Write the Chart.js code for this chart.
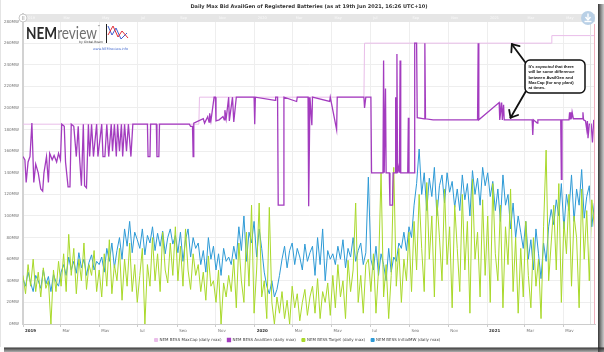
<!DOCTYPE html>
<html><head><meta charset="utf-8">
<script src="https://cdn.jsdelivr.net/npm/chart.js@4.4.1/dist/chart.umd.min.js"></script>
<style>
html,body{margin:0;padding:0;background:#fff;}
canvas{display:block;}
</style></head><body>
<canvas id="c" width="604" height="352"></canvas>
<script>
// ---------- DATA ----------
const seriesNames = ['NEM BESS MaxCap (daily max)','NEM BESS AvailGen (daily max)','NEM BESS Target (daily max)','NEM BESS InitialMW (daily max)'];
const tickDays = [0,59,120,181,243,304,365,425,486,547,609,670,731,790,851]; // days since 1 Jan 2019
const tickLabels = ['2019','Mar','May','Jul','Sep','Nov','2020','Mar','May','Jul','Sep','Nov','2021','Mar','May'];
const yTickValues = [0,20,40,60,80,100,120,140,160,180,200,220,240,260,280];

const maxCapDays = [0,277,278,537,538,832,833,900];
const maxCapMW   = [185,185,210,210,260,260,267,267];

const availDays = [
 0,3,5,8,11,14,17,20,24,28,
 31,33,37,40,42,46,49,53,56,59,
 61,65,67,71,74,76,80,84,87,89,
 92,95,97,100,103,105,108,111,116,118,
 124,126,129,132,135,139,141,144,147,149,
 152,155,157,160,163,166,170,173,196,197,
 200,201,210,211,214,215,262,264,267,268,
 269,284,286,291,293,294,296,301,303,304,
 309,315,317,318,320,324,325,330,332,336,
 364,365,366,397,398,401,402,410,411,431,
 432,449,450,452,455,456,483,484,494,495,
 537,538,540,548,549,567,568,569,571,572,
 577,578,582,583,586,587,588,589,590,592,
 593,594,595,606,607,608,616,617,620,621,
 632,633,634,646,716,717,718,750,751,754,
 755,757,758,802,803,804,810,811,847,848,
 849,860,861,862,863,864,865,867,881,882,
 883,886,888,889,890,892,895,897,899];
const availMW = [
 155,152,131,150,155,186,131,148,140,125,
 123,140,155,131,158,152,156,150,158,152,
 185,183,150,127,127,185,183,155,183,155,
 128,185,128,126,185,155,185,155,185,155,
 185,155,155,185,155,185,160,185,155,185,
 160,185,155,185,160,185,155,185,185,155,
 155,185,185,155,155,185,185,183,183,155,
 186,190,186,192,187,195,188,210,210,188,
 189,192,189,198,190,210,188,210,187,210,
 210,185,210,207,210,210,110,110,210,206,
 210,210,109,210,184,210,206,210,180,210,
 210,200,210,210,140,140,244,140,218,140,
 140,110,110,140,140,210,140,250,140,146,
 140,244,140,140,191,140,140,260,260,191,
 190,260,190,189,189,260,189,205,189,205,
 189,203,189,189,175,189,186,189,189,134,
 189,189,196,190,196,190,196,190,190,196,
 189,188,180,188,172,185,185,168,189];

// Target and InitialMW read every 4th day from 1 Jan 2019
const sampleStepDays = 4;
const targetMW = [
 45,28,55,35,60,30,48,25,52,33,40,0,50,30,58,
 35,65,30,83,45,70,28,60,40,75,32,55,45,68,30,
 50,25,65,35,78,28,55,40,70,22,60,35,75,30,55,20,
 45,70,0,55,35,80,40,65,30,85,50,38,75,45,90,
 40,72,35,88,50,32,65,45,
 55,30,48,22,63,35,40,20,50,0,38,25,45,
 30,60,15,75,40,20,85,35,110,10,50,112,25,
 40,5,108,20,0,25,10,
 30,5,22,0,35,15,28,3,20,32,8,25,
 35,10,42,5,30,20,38,8,
 45,15,55,25,40,5,59,30,50,112,20,45,10,55,
 60,
 30,65,10,50,140,25,55,5,45,
 145,35,70,20,60,40,85,30,
 95,50,120,70,30,131,60,100,25,115,80,40,125,55,90,15,110,
 70,30,120,50,95,10,134,60,85,25,115,45,
 100,20,130,65,40,110,15,90,55,125,30,80,10,
 70,25,95,45,15,80,35,60,5,90,161,40,75,
 110,50,130,20,95,65,120,35,100,80,15,125,60,105,40,115,90];
const initialMW = [
 42,35,48,38,30,45,40,33,50,37,44,30,46,39,35,
 48,55,45,62,50,58,47,66,52,60,45,57,64,50,58,
 55,62,48,70,58,75,52,68,80,60,88,72,95,66,85,78,
 70,88,64,82,75,90,68,84,72,86,65,80,88,74,82,
 66,85,58,78,88,62,80,70,
 75,55,68,48,80,60,72,50,65,45,70,58,62,
 55,72,60,90,68,100,58,85,75,95,62,88,70,
 48,35,28,40,25,32,45,
 60,72,52,68,75,55,70,62,50,74,58,66,
 72,45,80,55,88,40,68,60,
 65,55,72,60,78,52,70,62,80,58,68,75,55,66,
 136,
 60,50,72,45,65,55,40,70,48,
 62,58,75,70,85,68,90,80,
 110,130,162,120,140,105,135,118,145,100,128,138,112,140,122,132,108,
 125,105,138,115,130,100,142,120,135,110,145,128,
 140,118,132,105,125,95,138,110,120,88,112,80,100,
 85,70,95,60,78,50,88,65,42,75,58,90,106,
 92,115,100,130,88,120,105,138,95,125,110,143,98,118,128,90,112];

const seriesColors = ['#e9bde9','#a33cbf','#a9d92a','#2d9ad6'];
// annotation arrows point at (day, MW)
const arrowTargets = [[770,259],[768,191]];
const noteLines = [["It's ","expected"," that there"],["will be some difference"],["between AvailGen and"],["MaxCap (for any plant)"],["at times."]];
const titleText = 'Daily Max Bid AvailGen of Registered Batteries (as at 19th Jun 2021, 16:26 UTC+10)';

// ---------- BUILD ----------
const pts = (xs, ys) => ys.map((v,i)=>({x:xs[i], y:v}));
const sampled = ys => ys.map((v,i)=>({x:i*sampleStepDays, y:v}));
const PB = 0;
const PLOT_BOTTOM = 325;
const FONT = 'DejaVu Sans';

const deco = {
  id:'deco',
  beforeDraw(chart){
    const ctx = chart.ctx;
    ctx.save();
    ctx.fillStyle='#fff'; ctx.fillRect(0,0,604,352);
    let g = ctx.createLinearGradient(598,0,604,0);
    g.addColorStop(0,'rgba(40,40,40,0.95)'); g.addColorStop(1,'rgba(120,120,120,0.4)');
    ctx.fillStyle=g; ctx.fillRect(598,4,6,348);
    g = ctx.createLinearGradient(0,347,0,352);
    g.addColorStop(0,'rgba(20,20,20,0.95)'); g.addColorStop(1,'rgba(90,90,90,0.5)');
    ctx.fillStyle=g; ctx.fillRect(4,347.5,600,4.5);
    ctx.fillStyle='#e4e4e4'; ctx.fillRect(0,0,1,347);
    ctx.restore();
  },
  beforeDatasetsDraw(chart){
    const {ctx, chartArea:ca, scales:{x}} = chart;
    ctx.save();
    ctx.fillStyle = '#e6e6e6';
    ctx.fillRect(ca.left+1, ca.top, ca.right-ca.left-1, 8);
    ctx.fillStyle = '#fbfbfb';
    ctx.font = '3.5px "'+FONT+'"';
    ctx.textBaseline = 'middle';
    tickDays.forEach((d,i)=>{ ctx.fillText(tickLabels[i], x.getPixelForValue(d)+3, ca.top+4); });
    ctx.restore();
  },
  afterDraw(chart){
    const {ctx, chartArea:ca, scales:{x,y}} = chart;
    ctx.save();
    // title
    ctx.fillStyle = '#333';
    ctx.font = 'bold 5px "'+FONT+'"';
    ctx.textAlign = 'center'; ctx.textBaseline = 'middle';
    ctx.fillText(titleText, 309, 6.5);
    // slider handle at left of top band
    ctx.beginPath(); ctx.arc(ca.left, ca.top+4, 4, 0, Math.PI*2);
    ctx.fillStyle='#fff'; ctx.fill(); ctx.strokeStyle='#c8c8c8'; ctx.lineWidth=1; ctx.stroke();
    ctx.fillStyle='#bbb'; ctx.fillRect(ca.left-1, ca.top+2, 0.8, 4); ctx.fillRect(ca.left+0.5, ca.top+2, 0.8, 4);
    // right side bar
    ctx.strokeStyle='#e2e2e2'; ctx.lineWidth=1;
    ctx.beginPath(); ctx.moveTo(590.5, 24); ctx.lineTo(590.5, ca.bottom); ctx.stroke();
    ctx.strokeStyle='#f2b0bf';
    ctx.beginPath(); ctx.moveTo(594.5, 24); ctx.lineTo(594.5, ca.bottom); ctx.stroke();
    // download button
    ctx.beginPath(); ctx.arc(588, 18, 7, 0, Math.PI*2); ctx.fillStyle='#b9d0e6'; ctx.fill();
    ctx.strokeStyle='#fff'; ctx.lineWidth=1.4;
    ctx.beginPath(); ctx.moveTo(588,13.5); ctx.lineTo(588,19.5); ctx.stroke();
    ctx.beginPath(); ctx.moveTo(585.5,17); ctx.lineTo(588,20); ctx.lineTo(590.5,17); ctx.stroke();
    ctx.beginPath(); ctx.moveTo(584.5,21.5); ctx.lineTo(591.5,21.5); ctx.stroke();
    // logo
    ctx.textAlign='left'; ctx.textBaseline='alphabetic';
    ctx.save();
    ctx.translate(26, 39); ctx.scale(0.8, 1);
    ctx.font='bold 17px Lato'; ctx.fillStyle='#2a2a2a';
    ctx.fillText('NEM', 0, 0);
    const w1 = ctx.measureText('NEM').width;
    ctx.font='17px Lato'; ctx.fillStyle='#707070';
    ctx.fillText('review', w1, 0);
    const w2 = ctx.measureText('review').width;
    ctx.font='4px Lato'; ctx.fillText('™', w1+w2+1, -11);
    ctx.restore();
    ctx.font='3px "'+FONT+'"'; ctx.fillStyle='#333';
    ctx.fillText('by Global-Roam', 79, 43);
    ctx.font='3.4px "'+FONT+'"'; ctx.fillStyle='#4a6fd0';
    ctx.fillText('www.NEMreview.info', 93, 50);
    ctx.strokeStyle='#222'; ctx.lineWidth=1;
    ctx.beginPath(); ctx.moveTo(106.5,24); ctx.lineTo(106.5,43); ctx.stroke();
    ctx.strokeStyle='#3f5fd0'; ctx.lineWidth=1;
    ctx.beginPath(); ctx.moveTo(108,26); ctx.lineTo(112,35); ctx.lineTo(116,28); ctx.lineTo(121,39); ctx.lineTo(127,33); ctx.stroke();
    ctx.strokeStyle='#e0303a';
    ctx.beginPath(); ctx.moveTo(108,35); ctx.lineTo(113,26); ctx.lineTo(118,37); ctx.lineTo(122,31); ctx.lineTo(128,38); ctx.stroke();
    // annotation arrows
    ctx.strokeStyle='#111'; ctx.lineWidth=1.8; ctx.lineCap='round';
    const starts = [[525,62],[526,91]];
    arrowTargets.forEach((t,i)=>{
      const tx = x.getPixelForValue(t[0]), ty = y.getPixelForValue(t[1]);
      const [sx,sy] = starts[i];
      ctx.beginPath(); ctx.moveTo(sx,sy); ctx.lineTo(tx,ty); ctx.stroke();
      const ang = Math.atan2(sy-ty, sx-tx);
      [-0.7,0.7].forEach(da=>{
        ctx.beginPath(); ctx.moveTo(tx,ty);
        ctx.lineTo(tx+8*Math.cos(ang+da), ty+8*Math.sin(ang+da)); ctx.stroke();
      });
    });
    // annotation box
    ctx.beginPath();
    if (ctx.roundRect) ctx.roundRect(525, 60, 60, 33, 5); else ctx.rect(525,60,60,33);
    ctx.fillStyle='#fff'; ctx.fill(); ctx.lineWidth=1.5; ctx.strokeStyle='#111'; ctx.stroke();
    ctx.fillStyle='#111'; ctx.textBaseline='middle';
    noteLines.forEach((segs,i)=>{
      let cx = 528.5;
      segs.forEach((s,j)=>{
        ctx.font = (segs.length>1 && j===1 ? 'italic ' : '') + 'bold 4.2px "Liberation Sans"';
        ctx.fillText(s, cx, 67 + i*5.2);
        cx += ctx.measureText(s).width;
      });
    });
    ctx.restore();
  }
};

new Chart(document.getElementById('c'), {
  type:'line',
  data:{ datasets:[
    {label:seriesNames[0], data:pts(maxCapDays,maxCapMW), borderColor:seriesColors[0], backgroundColor:seriesColors[0], borderWidth:1, order:3},
    {label:seriesNames[1], data:pts(availDays,availMW), borderColor:seriesColors[1], backgroundColor:seriesColors[1], borderWidth:1.3, order:0},
    {label:seriesNames[2], data:sampled(targetMW), borderColor:seriesColors[2], backgroundColor:seriesColors[2], borderWidth:1, order:1},
    {label:seriesNames[3], data:sampled(initialMW), borderColor:seriesColors[3], backgroundColor:seriesColors[3], borderWidth:1, order:2}
  ]},
  options:{
    responsive:false, animation:false, devicePixelRatio:1,
    elements:{point:{radius:0}, line:{tension:0}},
    layout:{padding:{left:0, right:9, top:14, bottom:PB}},
    plugins:{
      title:{display:false}, tooltip:{enabled:false},
      legend:{position:'bottom', labels:{boxWidth:3, boxHeight:3, padding:6, color:'#444',
        font:{family:FONT, size:4}, sort:(a,b)=>a.datasetIndex-b.datasetIndex}}
    },
    scales:{
      x:{type:'linear', min:0, max:901,
        afterBuildTicks:s=>{ s.ticks = tickDays.map(v=>({value:v})); },
        afterFit:s=>{ const L = s.chart.legend ? s.chart.legend.height : 0; s.height = Math.max(8, 352 - PLOT_BOTTOM - PB - L); },
        ticks:{autoSkip:false, maxRotation:0, align:'start', labelOffset:2, padding:2,
          callback:(v)=>{ const i = tickDays.indexOf(v); return i>=0 ? tickLabels[i] : ''; },
          font:c=>({family:FONT, size:4, weight: /^\d{4}$/.test(tickLabels[c.index]||'') ? 'bold':'normal'}),
          color:c=>/^\d{4}$/.test(tickLabels[c.index]||'') ? '#333' : '#777'},
        grid:{color:'#eeeeee', tickLength:3, tickColor:'#cccccc'},
        border:{color:'#cccccc'}
      },
      y:{min:0, max:287,
        afterBuildTicks:s=>{ s.ticks = yTickValues.map(v=>({value:v})); },
        afterFit:s=>{ s.width = 23; },
        ticks:{callback:v=>v+'MW', font:{family:FONT, size:4}, color:'#777', padding:4},
        grid:{color:'#eeeeee', drawTicks:false},
        border:{color:'#d2d2d2', width:2}
      }
    }
  },
  plugins:[deco]
});
</script>
</body></html>
